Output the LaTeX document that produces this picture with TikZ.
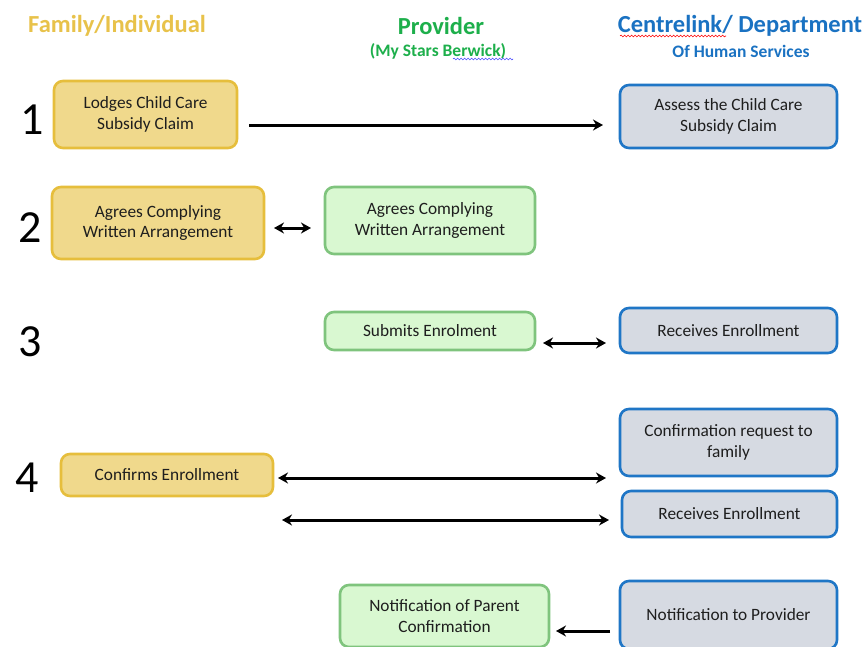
\documentclass[tikz,border=0pt]{standalone}
\usepackage{fontspec}
\setmainfont{Carlito}
\usetikzlibrary{arrows.meta,decorations.pathmorphing}
\definecolor{famfill}{HTML}{F0D98C}
\definecolor{famline}{HTML}{E6BE3C}
\definecolor{famtext}{HTML}{E8C24A}
\definecolor{profill}{HTML}{D9F8D1}
\definecolor{proline}{HTML}{7FC47D}
\definecolor{protext}{HTML}{1DAF4B}
\definecolor{cenfill}{HTML}{D6DAE2}
\definecolor{cenline}{HTML}{1F76C6}
\definecolor{centext}{HTML}{1A72C2}
\definecolor{txt}{HTML}{1E1E1E}
\tikzset{
  box/.style={rounded corners=9pt, line width=2.6pt, align=center, inner sep=2pt,
    font=\fontsize{17.3}{20.5}\selectfont, text=txt},
  fam/.style={box, fill=famfill, draw=famline},
  pro/.style={box, fill=profill, draw=proline},
  cen/.style={box, fill=cenfill, draw=cenline},
  num/.style={font=\fontsize{46}{46}\selectfont, text=black},
  conn/.style={line width=3pt, -{Stealth[length=10pt,width=11pt]}},
  dconn/.style={line width=3pt, {Stealth[length=10pt,width=11pt]}-{Stealth[length=10pt,width=11pt]}},
  head/.style={font=\bfseries\fontsize{24.5}{28}\selectfont},
  subhead/.style={font=\bfseries\fontsize{17.5}{20}\selectfont},
  squig/.style={decorate, decoration={snake, amplitude=0.9pt, segment length=3.5pt}, line width=0.6pt}
}
\begin{document}
\begin{tikzpicture}[x=1pt,y=-1pt]
\useasboundingbox[fill=white] (0,0) rectangle (865,646);

% headers
\node[head, text=famtext] (hf) at (117,26) {Family/Individual};
\node[head, text=protext] (hp) at (441,26) {Provider};
\node[subhead, text=protext] (hps) at (438,51) {(My Stars Berwick)};
\node[head, text=centext] (hc) at (740,26) {Centrelink/ Department};
\node[subhead, text=centext] (hcs) at (741,51) {Of Human Services};
\draw[squig, red] (620,36) -- (726,36);
\draw[squig, blue!70] (453,59) -- (513,59);

% step numbers
\node[num] (n1) at (32,120) {1};
\node[num] (n2) at (30,228) {2};
\node[num] (n3) at (30,342) {3};
\node[num] (n4) at (27,478) {4};

% family
\node[fam, minimum width=183pt, minimum height=67pt] (f1) at (145.5,114.5) {Lodges Child Care\\Subsidy Claim};
\node[fam, minimum width=212pt, minimum height=72pt] (f2) at (158,223) {Agrees Complying\\Written Arrangement};
\node[fam, minimum width=212pt, minimum height=42pt] (f4) at (167,475) {Confirms Enrollment};

% provider
\node[pro, minimum width=210pt, minimum height=67pt] (p2) at (430,220.5) {Agrees Complying\\Written Arrangement};
\node[pro, minimum width=210pt, minimum height=38pt] (p3) at (430,331) {Submits Enrolment};
\node[pro, minimum width=209pt, minimum height=62pt] (p5) at (444.5,616) {Notification of Parent\\Confirmation};

% centrelink
\node[cen, minimum width=217pt, minimum height=63pt] (c1) at (728.5,116.5) {Assess the Child Care\\Subsidy Claim};
\node[cen, minimum width=217pt, minimum height=45pt] (c3) at (728.5,330.5) {Receives Enrollment};
\node[cen, minimum width=217pt, minimum height=67pt] (c4a) at (728.5,442.5) {Confirmation request to\\family};
\node[cen, minimum width=215pt, minimum height=46pt] (c4b) at (729.5,514) {Receives Enrollment};
\node[cen, minimum width=217pt, minimum height=68pt] (c5) at (728.5,615) {Notification to Provider};

% connector ends
\coordinate (a1s) at (249,125);
\coordinate (a1e) at (603,125);
\coordinate (a2s) at (274,228);
\coordinate (a2e) at (311,228);
\coordinate (a3s) at (543,343);
\coordinate (a3e) at (606,343);
\coordinate (a4s) at (278,478);
\coordinate (a4e) at (606,478);
\coordinate (a5s) at (282,520);
\coordinate (a5e) at (609,520);
\coordinate (a6s) at (610,631);
\coordinate (a6e) at (556,631);

\draw[conn] (a1s) -- (a1e);
\draw[dconn] (a2s) -- (a2e);
\draw[dconn] (a3s) -- (a3e);
\draw[dconn] (a4s) -- (a4e);
\draw[dconn] (a5s) -- (a5e);
\draw[conn] (a6s) -- (a6e);
\end{tikzpicture}
\end{document}
